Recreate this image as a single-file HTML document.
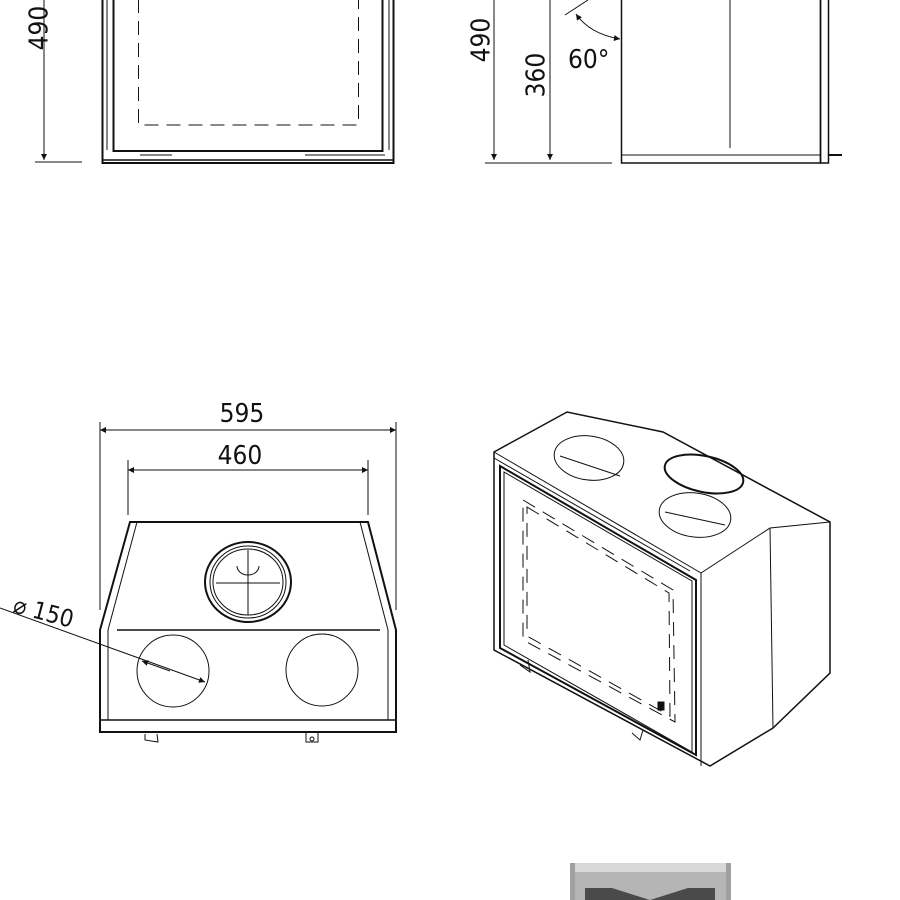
<!DOCTYPE html>
<html><head><meta charset="utf-8"><style>
html,body{margin:0;padding:0;background:#fff;width:900px;height:900px;overflow:hidden}
svg text{font-family:"DejaVu Sans Condensed","Liberation Sans Narrow","Liberation Sans",sans-serif;fill:#111}
</style></head><body>
<svg width="900" height="900" viewBox="0 0 900 900" xmlns="http://www.w3.org/2000/svg">
<defs>
<marker id="a" viewBox="0 0 10 10" refX="10" refY="5" markerWidth="10" markerHeight="6" orient="auto-start-reverse" markerUnits="userSpaceOnUse"><path d="M0,0L10,5L0,10z" fill="#111"/></marker>
</defs>
<g stroke="#111" fill="none" stroke-width="1">
<!-- top-left view -->
<line x1="44" y1="0" x2="44" y2="160" marker-end="url(#a)"/>
<line x1="35" y1="162" x2="82" y2="162"/>
<rect x="102.5" y="-5" width="291" height="168" stroke-width="2"/>
<line x1="107" y1="-5" x2="107" y2="150"/>
<line x1="389" y1="-5" x2="389" y2="150"/>
<rect x="113.5" y="-5" width="269" height="156" stroke-width="2"/>
<rect x="138.5" y="-5" width="220" height="130" stroke-dasharray="14,8"/>
<line x1="103" y1="160" x2="393" y2="160" stroke-width="1.5"/>
<line x1="140" y1="155" x2="172" y2="155"/>
<line x1="305" y1="155" x2="385" y2="155"/>
<!-- top-right side view -->
<line x1="494" y1="0" x2="494" y2="160" marker-end="url(#a)"/>
<line x1="550" y1="0" x2="550" y2="160" marker-end="url(#a)"/>
<line x1="485" y1="163" x2="612" y2="163"/>
<line x1="565" y1="15" x2="588" y2="0"/>
<path d="M576 14 Q590 34 620 39" marker-start="url(#a)" marker-end="url(#a)"/>
<rect x="621.5" y="-5" width="199" height="168" stroke-width="1.5"/>
<line x1="730" y1="-5" x2="730" y2="148"/>
<line x1="621" y1="155" x2="820" y2="155"/>
<rect x="820.5" y="-5" width="8" height="168" stroke-width="1.5"/>
<line x1="828" y1="155" x2="842" y2="155" stroke-width="2"/>
<!-- bottom-left view -->
<line x1="100" y1="422" x2="100" y2="610"/>
<line x1="396" y1="422" x2="396" y2="610"/>
<line x1="100" y1="430" x2="396" y2="430" marker-start="url(#a)" marker-end="url(#a)"/>
<line x1="128" y1="460" x2="128" y2="515"/>
<line x1="368" y1="460" x2="368" y2="515"/>
<line x1="128" y1="470" x2="368" y2="470" marker-start="url(#a)" marker-end="url(#a)"/>
<path d="M130 522 L368 522 L396 630 L396 732 L100 732 L100 630 Z" stroke-width="2"/>
<line x1="137" y1="522" x2="108" y2="630"/>
<line x1="360" y1="522" x2="388" y2="630"/>
<line x1="108" y1="630" x2="108" y2="720"/>
<line x1="388" y1="630" x2="388" y2="720"/>
<line x1="117" y1="630" x2="380" y2="630" stroke-width="1.5"/>
<line x1="100" y1="720" x2="396" y2="720" stroke-width="1.5"/>
<ellipse cx="248" cy="582" rx="43" ry="40" stroke-width="2"/>
<ellipse cx="248" cy="582" rx="38" ry="36"/>
<ellipse cx="248" cy="582" rx="35" ry="33"/>
<line x1="248" y1="550" x2="248" y2="615"/>
<line x1="216" y1="583" x2="280" y2="583"/>
<path d="M237 566 A11 9 0 0 0 259 566"/>
<circle cx="173" cy="671" r="36"/>
<circle cx="322" cy="670" r="36"/>
<line x1="0" y1="608" x2="205" y2="682" marker-end="url(#a)"/>
<line x1="170" y1="671" x2="142" y2="661" marker-end="url(#a)"/>
<path d="M145 734 L145 740 L158 742 L157 734"/>
<path d="M306 732 L306 742 L318 742 L318 732"/>
<circle cx="312" cy="739" r="2"/>
<!-- iso view -->
<path d="M494 452 L567 412 L663 432 L830 522 L830 673 L773 728 L710 766 L494 650 Z" stroke-width="1.5"/>
<path d="M494 452 L701 573 L701 766"/>
<path d="M701 573 L770 528 L830 522"/>
<path d="M770 528 L773 728"/>
<path d="M494 458 L690 571"/>
<path d="M500 466 L696 580 L696 755 L500 648 Z" stroke-width="2"/>
<path d="M504 472 L692 581 L692 752 L504 645 Z"/>
<path d="M523 500 L673 590 L675 722 L523 640 Z" stroke-dasharray="14,9" />
<path d="M527 507 L669 593 L670 716 L527 636 Z" stroke-dasharray="14,9" />
<ellipse cx="589" cy="458" rx="35" ry="22" transform="rotate(8 589 458)"/>
<ellipse cx="704" cy="474" rx="40" ry="18" transform="rotate(12 704 474)" stroke-width="2"/>
<ellipse cx="695" cy="515" rx="36" ry="22" transform="rotate(8 695 515)"/>
<line x1="560" y1="456" x2="620" y2="476"/>
<line x1="665" y1="512" x2="725" y2="525"/>
<path d="M520 665 L530 672 L528 660"/>
<path d="M632 733 L640 740 L643 730"/>
<rect x="658" y="702" width="6" height="8" fill="#111"/>
</g>
<text x="40" y="28" font-size="26" transform="rotate(-90 40 28)" text-anchor="middle" dominant-baseline="middle">490</text>
<text x="482" y="40" font-size="26" transform="rotate(-90 482 40)" text-anchor="middle" dominant-baseline="middle">490</text>
<text x="537" y="75" font-size="26" transform="rotate(-90 537 75)" text-anchor="middle" dominant-baseline="middle">360</text>
<text x="568" y="68" font-size="26">60°</text>
<text x="242" y="422" font-size="26" text-anchor="middle">595</text>
<text x="240" y="464" font-size="26" text-anchor="middle">460</text>
<text x="12" y="612" font-size="24" transform="rotate(15 12 612)">⌀ 150</text>
<!-- bottom -->
<rect x="570" y="863" width="161" height="40" fill="#b5b5b5"/>
<path d="M570 863 L731 863 L726 872 L575 872 Z" fill="#d8d8d8"/>
<rect x="570" y="863" width="5" height="40" fill="#a0a0a0"/>
<rect x="726" y="863" width="5" height="40" fill="#a0a0a0"/>
<path d="M585 900 L585 888 L612 888 L650 900 L688 888 L715 888 L715 900 Z" fill="#4a4a4a"/>
</svg>
</body></html>
